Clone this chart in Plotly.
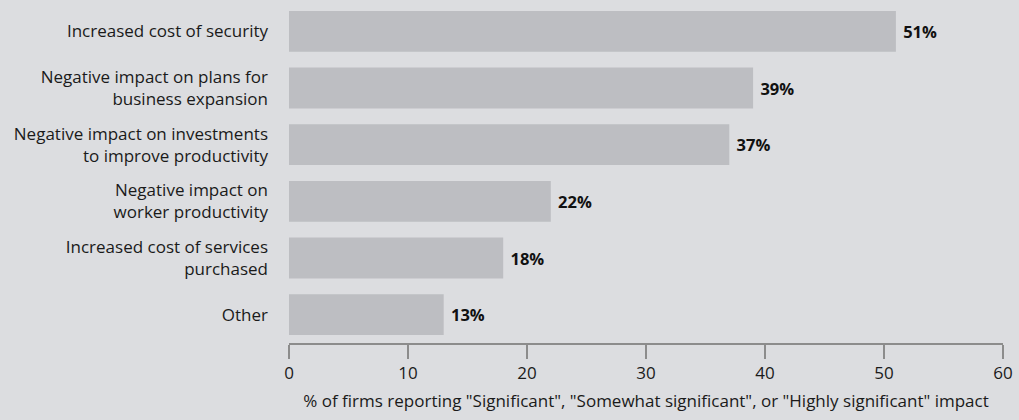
import plotly.graph_objects as go

categories = [
    "Increased cost of security",
    "Negative impact on plans for<br>business expansion",
    "Negative impact on investments<br>to improve productivity",
    "Negative impact on<br>worker productivity",
    "Increased cost of services<br>purchased",
    "Other",
]
values = [51, 39, 37, 22, 18, 13]
value_labels = [" 51%", " 39%", " 37%", " 22%", " 18%", " 13%"]
x_ticks = [0, 10, 20, 30, 40, 50, 60]
x_title = '% of firms reporting "Significant", "Somewhat significant", or "Highly significant" impact'

BG = "#dcdde0"
BAR = "#bdbec2"
TXT = "#1a1a1a"
FONT = "Open Sans"

fig = go.Figure(
    go.Bar(
        x=values,
        y=categories,
        orientation="h",
        marker=dict(color=BAR, line=dict(width=0)),
        text=value_labels,
        textposition="outside",
        textfont=dict(family=FONT, size=16.5, color="#111111", weight="bold"),
        cliponaxis=False,
        width=0.72,
        hoverinfo="skip",
    )
)

fig.update_layout(
    width=1019,
    height=420,
    paper_bgcolor=BG,
    plot_bgcolor=BG,
    margin=dict(l=289, r=16, t=3, b=77, autoexpand=False),
    font=dict(family=FONT, size=17, color=TXT),
    showlegend=False,
    xaxis=dict(
        range=[0, 60],
        tickvals=x_ticks,
        ticktext=[str(t) for t in x_ticks],
        showgrid=False,
        zeroline=False,
        showline=True,
        linecolor="#8c8c8c",
        linewidth=1.5,
        ticks="outside",
        ticklen=14,
        tickcolor="#8c8c8c",
        tickwidth=1.5,
        tickfont=dict(family=FONT, size=17, color=TXT),
        title=dict(text=x_title, font=dict(family=FONT, size=17, color=TXT), standoff=12),
    ),
    yaxis=dict(
        categoryorder="array",
        categoryarray=categories[::-1],
        autorange=False,
        range=[-0.5, 5.5],
        showgrid=False,
        zeroline=False,
        showline=False,
        ticks="",
        ticklabelstandoff=20,
        tickfont=dict(family=FONT, size=17, color=TXT),
    ),
)

fig.write_html(
    "out.html",
    config={"displayModeBar": False},
    post_script="document.body.style.margin='0';document.body.style.background='%s';" % BG,
)
